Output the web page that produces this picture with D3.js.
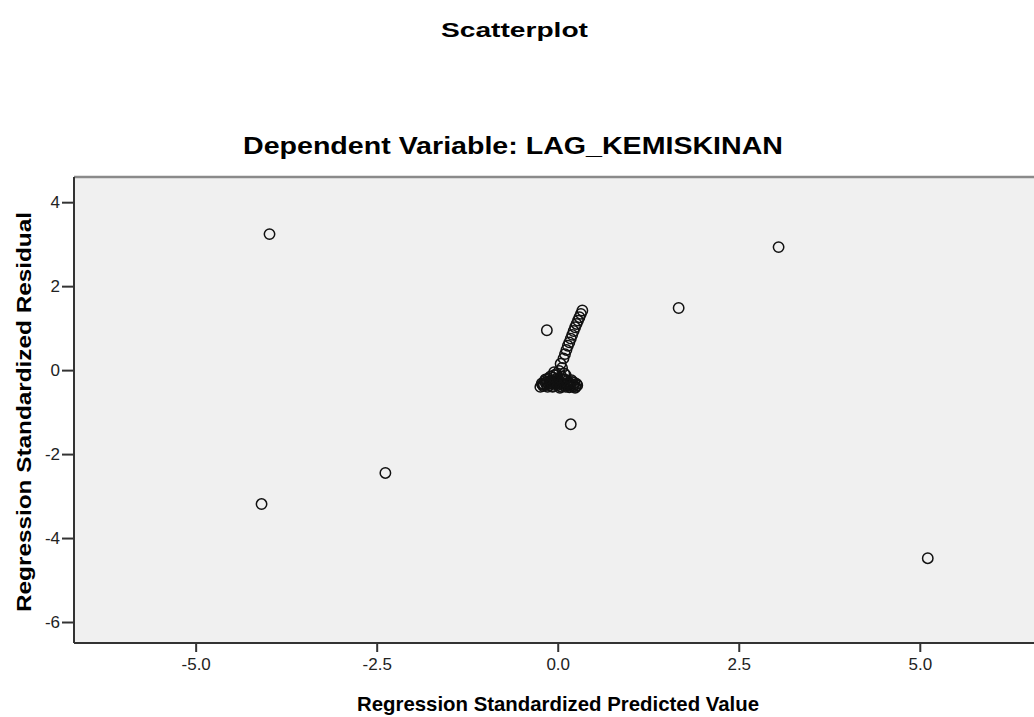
<!DOCTYPE html>
<html><head><meta charset="utf-8">
<script src="https://cdn.jsdelivr.net/npm/d3@7/dist/d3.min.js"></script>
<style>body{margin:0;background:#fff;}svg{display:block;}</style>
</head><body>
<svg id="chart" width="1034" height="717"></svg>
<script>
const title = "Scatterplot";
const subtitle = "Dependent Variable: LAG_KEMISKINAN";
const xLabel = "Regression Standardized Predicted Value";
const yLabel = "Regression Standardized Residual";
const xTicks = [-5.0, -2.5, 0.0, 2.5, 5.0];
const yTicks = [4, 2, 0, -2, -4, -6];
const predicted = [-3.98, 3.05, 1.67, -0.15, 0.18, -2.38, -4.09, 5.11,
  0.08, 0.10, 0.12, 0.14, 0.16, 0.18, 0.20, 0.22, 0.24, 0.26, 0.28, 0.30, 0.32, 0.34,
  -0.22, -0.20, -0.15, -0.12, -0.08, -0.05, -0.02, 0.00, 0.03, 0.05, 0.06, 0.08, 0.10, 0.12, 0.15, 0.18, 0.22, 0.25, 0.04, -0.10,
  -0.24, -0.18, -0.14, -0.10, -0.06, -0.03, 0.01, 0.05, 0.09, 0.13, 0.17, 0.20, 0.24, 0.27, -0.19, -0.07, 0.02, 0.11, 0.19, -0.01,
  -0.21, -0.16, -0.11, -0.07, -0.04, 0.00, 0.04, 0.07, 0.11, 0.14, 0.21, 0.26, -0.13, -0.09, 0.03, 0.16, 0.23, -0.17, 0.09, -0.05];
const residual = [3.24, 2.93, 1.48, 0.95, -1.29, -2.45, -3.19, -4.48,
  0.28, 0.38, 0.48, 0.58, 0.66, 0.75, 0.84, 0.93, 1.02, 1.10, 1.18, 1.26, 1.34, 1.42,
  -0.32, -0.38, -0.28, -0.36, -0.25, -0.05, -0.10, -0.30, -0.38, -0.15, 0.05, -0.32, -0.22, -0.36, -0.30, -0.38, -0.35, -0.40, 0.15, -0.15,
  -0.40, -0.26, -0.40, -0.32, -0.18, -0.34, -0.22, -0.40, -0.36, -0.26, -0.33, -0.28, -0.42, -0.36, -0.34, -0.40, -0.02, -0.12, -0.24, -0.20,
  -0.35, -0.33, -0.27, -0.38, -0.29, -0.35, -0.31, -0.24, -0.40, -0.34, -0.39, -0.33, -0.20, -0.28, -0.42, -0.41, -0.30, -0.22, -0.08, -0.12];

const FONT = "Liberation Sans, Arial, sans-serif";
const svg = d3.select("#chart");
const L = 74, R = 1040, T = 177, B = 643;
const x = d3.scaleLinear().domain([-6.68, 6.66]).range([L, R]);
const y = d3.scaleLinear().domain([4.6, -6.5]).range([T, B]);

svg.append("rect").attr("x", L).attr("y", T).attr("width", R - L).attr("height", B - T).attr("fill", "#f0f0f0");
svg.append("line").attr("x1", L).attr("x2", R).attr("y1", T).attr("y2", T).attr("stroke", "#8a8a8a").attr("stroke-width", 2.5);
svg.append("line").attr("x1", L).attr("x2", L).attr("y1", T).attr("y2", B).attr("stroke", "#333").attr("stroke-width", 2);
svg.append("line").attr("x1", L).attr("x2", R).attr("y1", B).attr("y2", B).attr("stroke", "#333").attr("stroke-width", 2);

const hy = s => s.replace("\u2212", "-");
const xAxis = d3.axisBottom(x).tickValues(xTicks).tickFormat(d => hy(d3.format(".1f")(d))).tickSize(8).tickSizeOuter(0);
const gx = svg.append("g").attr("transform", `translate(0,${B + 1})`).call(xAxis);
gx.attr("font-size", 17).attr("font-family", FONT);
gx.select(".domain").remove();
gx.selectAll("line").attr("stroke", "#333").attr("stroke-width", 2);
gx.selectAll("text").attr("fill", "#222").attr("y", 12).attr("dy", "0.85em");

const yAxis = d3.axisLeft(y).tickValues(yTicks).tickFormat(d => hy(d3.format("d")(d))).tickSize(11).tickSizeOuter(0);
const gy = svg.append("g").attr("transform", `translate(${L - 1},0)`).call(yAxis);
gy.attr("font-size", 17).attr("font-family", FONT);
gy.select(".domain").remove();
gy.selectAll("line").attr("stroke", "#333").attr("stroke-width", 2);
gy.selectAll("text").attr("fill", "#222").attr("x", -13);

const pts = predicted.map((p, i) => ({p, r: residual[i]}));
svg.append("g").selectAll("circle").data(pts).join("circle")
  .attr("cx", d => x(d.p)).attr("cy", d => y(d.r)).attr("r", 5.2)
  .attr("fill", "none").attr("stroke", "#111").attr("stroke-width", 1.5);

svg.append("text").attr("x", 441).attr("y", 37).attr("textLength", 147).attr("lengthAdjust", "spacingAndGlyphs")
  .attr("font-family", FONT).attr("font-weight", "bold").attr("font-size", 20).text(title);
svg.append("text").attr("x", 243).attr("y", 154).attr("textLength", 540).attr("lengthAdjust", "spacingAndGlyphs")
  .attr("font-family", FONT).attr("font-weight", "bold").attr("font-size", 24).text(subtitle);
svg.append("text").attr("x", 357).attr("y", 711).attr("textLength", 402).attr("lengthAdjust", "spacingAndGlyphs")
  .attr("font-family", FONT).attr("font-weight", "bold").attr("font-size", 21).text(xLabel);
svg.append("text").attr("transform", "translate(31,612) rotate(-90)").attr("textLength", 400).attr("lengthAdjust", "spacingAndGlyphs")
  .attr("font-family", FONT).attr("font-weight", "bold").attr("font-size", 21).text(yLabel);
</script>
</body></html>
